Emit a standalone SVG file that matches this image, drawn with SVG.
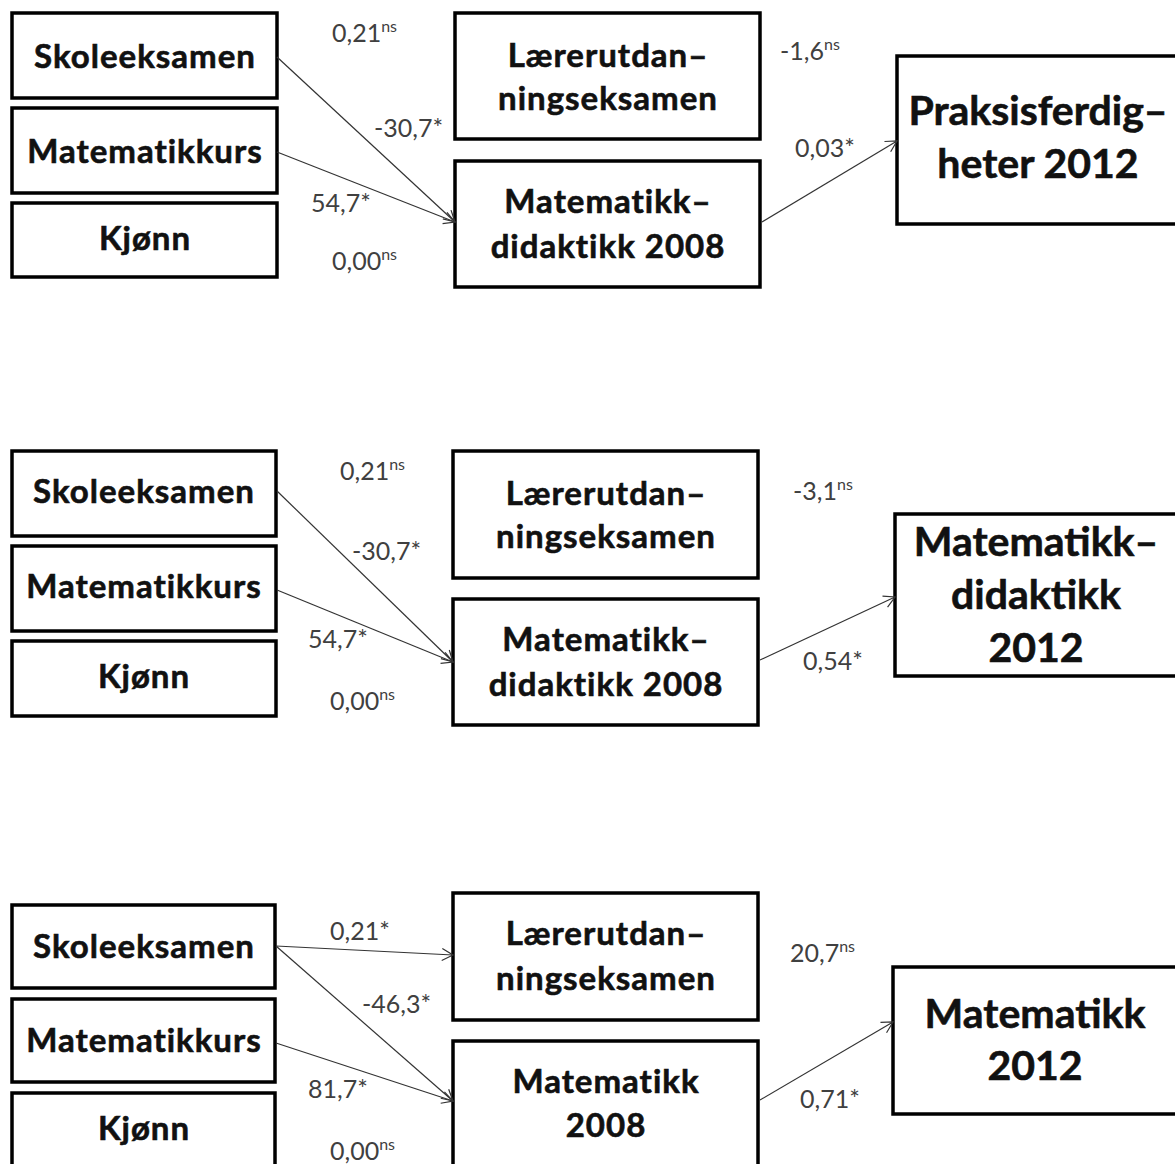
<svg xmlns="http://www.w3.org/2000/svg" width="1175" height="1164" viewBox="0 0 1175 1164">
<style>
.box{fill:#fff;stroke:#000;stroke-width:3.5}
.nt{font-family:Lato,"Liberation Sans",sans-serif;font-weight:bold;font-size:33px;letter-spacing:1px;fill:#111;stroke:#111;stroke-width:0.6;text-anchor:middle}
.big{font-size:41px;letter-spacing:0}
.lb{font-family:Lato,"Liberation Sans",sans-serif;font-size:25px;fill:#404040}
.sup{font-size:16px}
.con{stroke:#333;stroke-width:1.2;fill:none;marker-end:url(#ah)}
</style>
<defs>
<marker id="ah" markerWidth="14" markerHeight="14" refX="12" refY="7" orient="auto" markerUnits="userSpaceOnUse">
<path d="M1,1 L12,7 L1,13" fill="none" stroke="#333" stroke-width="1.2"/>
</marker>
</defs>
<rect width="1175" height="1164" fill="#fff"/>

<!-- Panel 1 -->
<g id="p1-skole"><rect class="box" x="12" y="13" width="265" height="85"/><text class="nt" x="145" y="68">Skoleeksamen</text></g>
<g id="p1-kurs"><rect class="box" x="12" y="108" width="265" height="85"/><text class="nt" x="145" y="163">Matematikkurs</text></g>
<g id="p1-kjonn"><rect class="box" x="12" y="203" width="265" height="74"/><text class="nt" x="145" y="250">Kjønn</text></g>
<g id="p1-larer"><rect class="box" x="455" y="13" width="305" height="126"/><text class="nt" x="608" y="67">Lærerutdan–</text><text class="nt" x="608" y="110">ningseksamen</text></g>
<g id="p1-md2008"><rect class="box" x="455" y="161" width="305" height="126"/><text class="nt" x="608" y="213">Matematikk–</text><text class="nt" x="608" y="258">didaktikk 2008</text></g>
<g id="p1-praksis"><rect class="box" x="897" y="56" width="290" height="168"/><text class="nt big" x="1038" y="125">Praksisferdig–</text><text class="nt big" x="1038" y="178">heter 2012</text></g>

<!-- Panel 2 -->
<g id="p2-skole"><rect class="box" x="12" y="451" width="264" height="85"/><text class="nt" x="144" y="503">Skoleeksamen</text></g>
<g id="p2-kurs"><rect class="box" x="12" y="546" width="264" height="85"/><text class="nt" x="144" y="598">Matematikkurs</text></g>
<g id="p2-kjonn"><rect class="box" x="12" y="641" width="264" height="75"/><text class="nt" x="144" y="688">Kjønn</text></g>
<g id="p2-larer"><rect class="box" x="453" y="451" width="305" height="127"/><text class="nt" x="606" y="505">Lærerutdan–</text><text class="nt" x="606" y="548">ningseksamen</text></g>
<g id="p2-md2008"><rect class="box" x="453" y="599" width="305" height="126"/><text class="nt" x="606" y="651">Matematikk–</text><text class="nt" x="606" y="696">didaktikk 2008</text></g>
<g id="p2-md2012"><rect class="box" x="895" y="514" width="292" height="162"/><text class="nt big" x="1036" y="556">Matematikk–</text><text class="nt big" x="1036" y="609">didaktikk</text><text class="nt big" x="1036" y="662">2012</text></g>

<!-- Panel 3 -->
<g id="p3-skole"><rect class="box" x="12" y="905" width="263" height="83"/><text class="nt" x="144" y="958">Skoleeksamen</text></g>
<g id="p3-kurs"><rect class="box" x="12" y="999" width="263" height="83"/><text class="nt" x="144" y="1052">Matematikkurs</text></g>
<g id="p3-kjonn"><rect class="box" x="12" y="1093" width="263" height="85"/><text class="nt" x="144" y="1140">Kjønn</text></g>
<g id="p3-larer"><rect class="box" x="453" y="893" width="305" height="127"/><text class="nt" x="606" y="945">Lærerutdan–</text><text class="nt" x="606" y="990">ningseksamen</text></g>
<g id="p3-m2008"><rect class="box" x="453" y="1041" width="305" height="140"/><text class="nt" x="606" y="1093">Matematikk</text><text class="nt" x="606" y="1137">2008</text></g>
<g id="p3-m2012"><rect class="box" x="893" y="967" width="294" height="147"/><text class="nt big" x="1035" y="1028">Matematikk</text><text class="nt big" x="1035" y="1080">2012</text></g>

<g id="connectors">
<line class="con" x1="277" y1="57" x2="455" y2="222"/>
<line class="con" x1="277" y1="152" x2="455" y2="222"/>
<line class="con" x1="762" y1="222" x2="897" y2="141"/>
<line class="con" x1="277" y1="491" x2="453" y2="662"/>
<line class="con" x1="277" y1="590" x2="453" y2="662"/>
<line class="con" x1="760" y1="660" x2="895" y2="597"/>
<line class="con" x1="276" y1="946" x2="453" y2="955"/>
<line class="con" x1="276" y1="946" x2="453" y2="1101"/>
<line class="con" x1="276" y1="1043" x2="453" y2="1101"/>
<line class="con" x1="760" y1="1100" x2="893" y2="1022"/>
</g>

<g id="labels">
<text class="lb" x="332" y="42">0,21<tspan class="sup" dy="-10">ns</tspan></text>
<text class="lb" x="374" y="137">-30,7*</text>
<text class="lb" x="311" y="212">54,7*</text>
<text class="lb" x="332" y="270">0,00<tspan class="sup" dy="-10">ns</tspan></text>
<text class="lb" x="780" y="60">-1,6<tspan class="sup" dy="-10">ns</tspan></text>
<text class="lb" x="795" y="157">0,03*</text>

<text class="lb" x="340" y="480">0,21<tspan class="sup" dy="-10">ns</tspan></text>
<text class="lb" x="352" y="560">-30,7*</text>
<text class="lb" x="308" y="648">54,7*</text>
<text class="lb" x="330" y="710">0,00<tspan class="sup" dy="-10">ns</tspan></text>
<text class="lb" x="793" y="500">-3,1<tspan class="sup" dy="-10">ns</tspan></text>
<text class="lb" x="803" y="670">0,54*</text>

<text class="lb" x="330" y="940">0,21*</text>
<text class="lb" x="362" y="1013">-46,3*</text>
<text class="lb" x="308" y="1098">81,7*</text>
<text class="lb" x="330" y="1160">0,00<tspan class="sup" dy="-10">ns</tspan></text>
<text class="lb" x="790" y="962">20,7<tspan class="sup" dy="-10">ns</tspan></text>
<text class="lb" x="800" y="1108">0,71*</text>
</g>
</svg>
